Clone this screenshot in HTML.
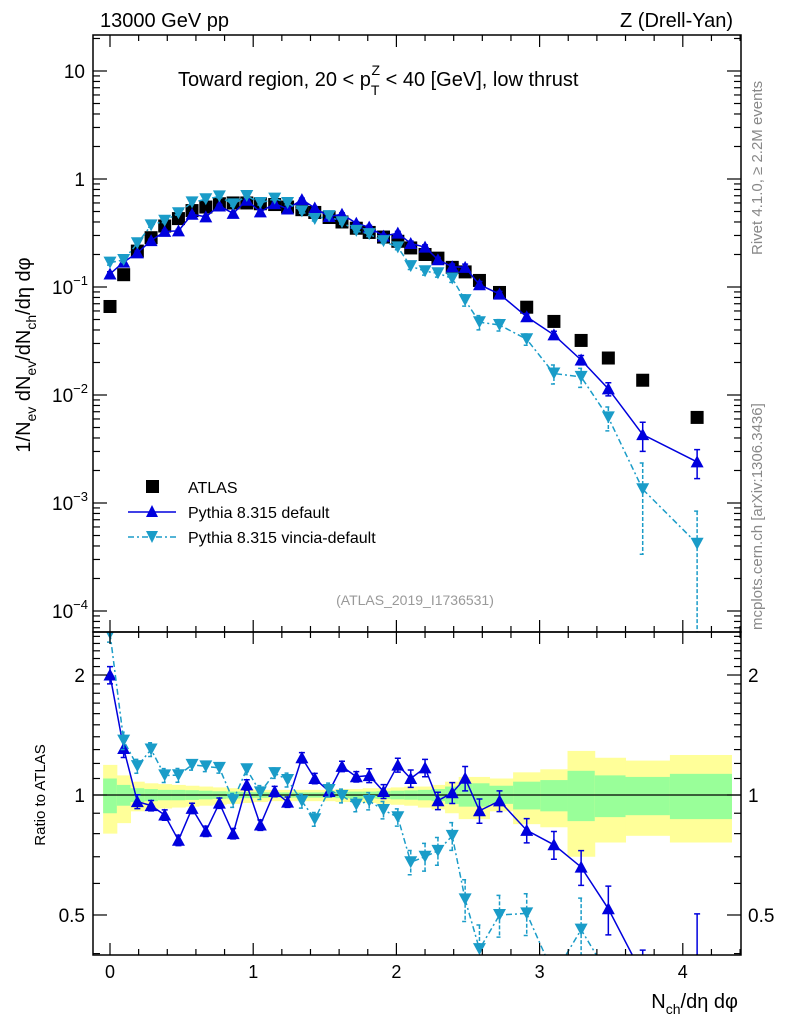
<!DOCTYPE html>
<html><head><meta charset="utf-8"><style>
html,body{margin:0;background:#fff;overflow:hidden;width:786px;height:1024px;}
svg{display:block;font-family:"Liberation Sans",sans-serif;}
</style></head><body>
<svg id="chart" width="786" height="1024" viewBox="0 0 786 1024" xmlns="http://www.w3.org/2000/svg">
<defs>
<clipPath id="clipMain"><rect x="93" y="35" width="648" height="597"/></clipPath>
<clipPath id="clipRatio"><rect x="93" y="632" width="648" height="323"/></clipPath>
</defs>
<rect x="0" y="0" width="786" height="1024" fill="#fff"/>
<g id="ratioBands" clip-path="url(#clipRatio)"></g>
<g id="mainMarks" clip-path="url(#clipMain)"></g>
<g id="ratioMarks" clip-path="url(#clipRatio)"></g>
<g id="axes"></g>
<text x="100" y="27" font-size="20">13000 GeV pp</text>
<text x="733" y="27" font-size="20" text-anchor="end">Z (Drell-Yan)</text>
<text x="178" y="86" font-size="20">Toward region, 20 &lt; p<tspan dy="9" font-size="14">T</tspan><tspan dx="-8" dy="-20" font-size="14">Z</tspan><tspan dy="11"> &lt; 40 [GeV], low thrust</tspan></text>
<text x="415" y="605" font-size="14" fill="#999" text-anchor="middle">(ATLAS_2019_I1736531)</text>
<text transform="translate(762,255) rotate(-90)" font-size="15" fill="#888">Rivet 4.1.0, ≥ 2.2M events</text>
<text transform="translate(762,630) rotate(-90)" font-size="15" fill="#888">mcplots.cern.ch [arXiv:1306.3436]</text>
<text transform="translate(30,355) rotate(-90)" font-size="20" text-anchor="middle">1/N<tspan dy="6" font-size="14">ev</tspan><tspan dy="-6"> dN</tspan><tspan dy="6" font-size="14">ev</tspan><tspan dy="-6">/dN</tspan><tspan dy="6" font-size="14">ch</tspan><tspan dy="-6">/dη dφ</tspan></text>
<text transform="translate(45,795) rotate(-90)" font-size="15" text-anchor="middle">Ratio to ATLAS</text>
<text x="738" y="1008" font-size="20" text-anchor="end">N<tspan dy="6" font-size="14">ch</tspan><tspan dy="-6">/dη dφ</tspan></text>
<g>
<rect x="146" y="480" width="13" height="13" fill="#000"/>
<text x="188" y="493" font-size="16">ATLAS</text>
<line x1="128" y1="512" x2="176" y2="512" stroke="#0000dd" stroke-width="1.5"/>
<polygon points="152,505 146,517 158,517" fill="#0000dd"/>
<text x="188" y="518" font-size="16">Pythia 8.315 default</text>
<line x1="128" y1="537" x2="176" y2="537" stroke="#1a9cc8" stroke-width="1.5" stroke-dasharray="6,3,2,3"/>
<polygon points="146,531 158,531 152,543" fill="#1a9cc8"/>
<text x="188" y="543" font-size="16">Pythia 8.315 vincia-default</text>
</g>
</svg>
<script>
const xCenters=[0,0.0955,0.191,0.287,0.382,0.478,0.573,0.669,0.764,0.860,0.955,1.05,1.15,1.24,1.34,1.43,1.53,1.62,1.72,1.81,1.91,2.01,2.10,2.20,2.29,2.39,2.48,2.58,2.72,2.91,3.10,3.29,3.48,3.72,4.10];
const atlasVals=[0.066,0.13,0.215,0.286,0.367,0.43,0.51,0.55,0.59,0.60,0.60,0.59,0.58,0.55,0.52,0.49,0.44,0.40,0.35,0.32,0.29,0.265,0.23,0.20,0.185,0.152,0.138,0.115,0.089,0.065,0.048,0.032,0.022,0.0137,0.0062];
const defaultVals=[0.132,0.170,0.207,0.269,0.327,0.331,0.472,0.446,0.563,0.48,0.636,0.496,0.592,0.528,0.645,0.539,0.449,0.472,0.389,0.358,0.296,0.315,0.253,0.234,0.179,0.154,0.152,0.105,0.086,0.053,0.036,0.0211,0.0114,0.0043,0.0024];
const vinciaVals=[0.168,0.178,0.254,0.372,0.411,0.482,0.607,0.649,0.690,0.582,0.696,0.599,0.658,0.600,0.502,0.426,0.453,0.398,0.331,0.309,0.266,0.233,0.156,0.140,0.134,0.120,0.0755,0.0472,0.0445,0.0328,0.0158,0.0147,0.0062,0.00134,0.00042];
const defaultErr=[0.05,0.05,0.04,0.03,0.03,0.03,0.03,0.03,0.03,0.03,0.03,0.03,0.03,0.03,0.03,0.03,0.03,0.03,0.03,0.04,0.04,0.04,0.05,0.05,0.05,0.06,0.07,0.07,0.06,0.07,0.08,0.1,0.14,0.3,0.3];
const vinciaErr=[0.05,0.05,0.04,0.04,0.04,0.04,0.03,0.03,0.03,0.04,0.03,0.04,0.03,0.04,0.04,0.04,0.04,0.04,0.04,0.05,0.05,0.05,0.07,0.08,0.08,0.08,0.12,0.15,0.12,0.12,0.2,0.2,0.25,0.75,1.0];
const bandYellowUp=[1.19,1.12,1.08,1.07,1.065,1.06,1.055,1.05,1.045,1.04,1.035,1.03,1.03,1.03,1.03,1.03,1.03,1.035,1.035,1.04,1.04,1.045,1.05,1.05,1.06,1.08,1.11,1.11,1.10,1.14,1.16,1.29,1.24,1.22,1.26];
const bandYellowDn=[0.80,0.85,0.91,0.92,0.925,0.93,0.935,0.94,0.945,0.95,0.955,0.96,0.965,0.965,0.965,0.965,0.965,0.96,0.96,0.955,0.95,0.945,0.94,0.93,0.92,0.90,0.87,0.87,0.91,0.845,0.83,0.70,0.76,0.79,0.76];
const bandGreenUp=[1.10,1.06,1.04,1.035,1.03,1.03,1.028,1.025,1.022,1.02,1.018,1.016,1.015,1.015,1.015,1.015,1.015,1.018,1.02,1.02,1.022,1.025,1.027,1.03,1.035,1.05,1.07,1.07,1.055,1.08,1.09,1.15,1.12,1.11,1.13];
const bandGreenDn=[0.90,0.94,0.96,0.965,0.97,0.97,0.972,0.975,0.978,0.98,0.982,0.984,0.985,0.985,0.985,0.985,0.985,0.982,0.98,0.98,0.978,0.975,0.973,0.97,0.965,0.95,0.935,0.935,0.95,0.92,0.91,0.86,0.88,0.89,0.87];
const xTickLabels=["0","1","2","3","4"];
const yTickLabels=["10","1","10^-1","10^-2","10^-3","10^-4"];
const ratioTickVals=[2,1,0.5];

const NS="http://www.w3.org/2000/svg";
const L=93,R=741,T=35,MB=632,RB=955;
const X=v=>110+v*143.2;
const Y=v=>179-108*Math.log10(v);
const RY=v=>795-398.6*Math.log10(v);
function mk(tag,attrs,parent){const e=document.createElementNS(NS,tag);for(const k in attrs)e.setAttribute(k,attrs[k]);parent.appendChild(e);return e;}
const gBand=document.getElementById('ratioBands');
const gMain=document.getElementById('mainMarks');
const gRat=document.getElementById('ratioMarks');
const gAx=document.getElementById('axes');
const edges=[];
edges.push(-0.048);
for(let i=0;i<xCenters.length-1;i++)edges.push((xCenters[i]+xCenters[i+1])/2);
edges.push(4.34);
for(let i=0;i<xCenters.length;i++){
  const y1=mk('rect',{x:X(edges[i]),y:RY(bandYellowUp[i]),width:X(edges[i+1])-X(edges[i])+0.5,height:RY(bandYellowDn[i])-RY(bandYellowUp[i]),fill:'#ffff99'},gBand);
  
  
  const g1=mk('rect',{x:X(edges[i]),y:RY(bandGreenUp[i]),width:X(edges[i+1])-X(edges[i])+0.5,height:RY(bandGreenDn[i])-RY(bandGreenUp[i]),fill:'#99ff99'},gBand);
  
  
}
mk('line',{x1:L,x2:R,y1:RY(1),y2:RY(1),stroke:'#000','stroke-width':1.2},gRat);
function clampY(y,ratio){const top=ratio?MB-20:T-20,bot=ratio?RB+20:MB+20;return Math.max(top,Math.min(bot,y));}
function series(vals,errs,color,dash,down,g,ratio){
  const pts=[];
  const f=ratio?RY:Y;
  for(let i=0;i<vals.length;i++){
    const v=ratio?vals[i]/atlasVals[i]:vals[i];
    pts.push(X(xCenters[i])+','+clampY(f(v),ratio));
  }
  const pl=mk('polyline',{points:pts.join(' '),fill:'none',stroke:color,'stroke-width':1.5},g);
  if(dash)pl.setAttribute('stroke-dasharray',dash);
  
  
  for(let i=0;i<vals.length;i++){
    const v=ratio?vals[i]/atlasVals[i]:vals[i];
    const x=X(xCenters[i]),y=f(v);
    const lo=Math.max(v*(1-errs[i]),1e-9),hi=v*(1+errs[i]);
    const yl=clampY(f(lo),ratio),yh=clampY(f(hi),ratio);
    const eb=mk('path',{d:'M'+x+','+yh+'V'+yl+'M'+(x-3)+','+yh+'h6M'+(x-3)+','+yl+'h6',stroke:color,'stroke-width':1.5,fill:'none'},g);
    if(dash)eb.setAttribute('stroke-dasharray','4,2');
    
    
    if(y<(ratio?MB:T)-10||y>(ratio?RB:MB)+10)continue;
    const p=down?(x-6.5)+','+(y-6)+' '+(x+6.5)+','+(y-6)+' '+x+','+(y+6):x+','+(y-6.5)+' '+(x-6.5)+','+(y+5.5)+' '+(x+6.5)+','+(y+5.5);
    const m=mk('polygon',{points:p,fill:color},g);
    
    
  }
}
for(let i=0;i<atlasVals.length;i++){
  const s=mk('rect',{x:X(xCenters[i])-6.5,y:Y(atlasVals[i])-6.5,width:13,height:13,fill:'#000'},gMain);
  
  
}
series(defaultVals,defaultErr,'#0000dd',null,false,gMain,false);
series(vinciaVals,vinciaErr,'#1a9cc8','6,3,2,3',true,gMain,false);
series(defaultVals,defaultErr,'#0000dd',null,false,gRat,true);
series(vinciaVals,vinciaErr,'#1a9cc8','6,3,2,3',true,gRat,true);
[[T,MB],[MB,RB]].forEach(function(pr){
  const t=pr[0],b=pr[1];
  mk('rect',{x:L,y:t,width:R-L,height:b-t,fill:'none',stroke:'#000','stroke-width':1.5},gAx);
  for(let k=-1;k<=23;k++){
    const v=k*0.2;const x=X(v);if(x<L||x>R)continue;
    const major=k%5===0;
    const len=major?12:6;
    mk('line',{x1:x,x2:x,y1:b,y2:b-len,stroke:'#000','stroke-width':1.2},gAx);
    mk('line',{x1:x,x2:x,y1:t,y2:t+len,stroke:'#000','stroke-width':1.2},gAx);
  }
});
xTickLabels.forEach(function(s){const t=mk('text',{x:X(+s),y:978,'font-size':18,'text-anchor':'middle'},gAx);t.textContent=s;

});
for(let d=-5;d<=1;d++){
  for(let k=1;k<10;k++){
    const v=k*Math.pow(10,d);const y=Y(v);if(y<T||y>MB)continue;
    const len=k===1?14:7;
    mk('line',{x1:L,x2:L+len,y1:y,y2:y,stroke:'#000','stroke-width':1.2},gAx);
    mk('line',{x1:R,x2:R-len,y1:y,y2:y,stroke:'#000','stroke-width':1.2},gAx);
  }
}
yTickLabels.forEach(function(s,i){
  const v=Math.pow(10,1-i);const y=Y(v);
  const t=mk('text',{x:85,y:y+7,'font-size':19,'text-anchor':'end'},gAx);
  if(s.indexOf('^')>=0){const p=s.split('^');t.textContent=p[0];const ts=mk('tspan',{dy:-9,'font-size':13},t);ts.textContent=p[1].replace('-','−');t.setAttribute('x',88);}
  else t.textContent=s;
  
  
});
[0.4,0.5,0.6,0.7,0.8,0.9,1,1.1,1.2,1.3,1.4,1.5,1.6,1.7,1.8,1.9,2,2.1,2.2,2.3,2.4,2.5].forEach(function(v){
  const y=RY(v);if(y<MB||y>RB)return;
  const major=ratioTickVals.indexOf(v)>=0;const len=major?14:7;
  mk('line',{x1:L,x2:L+len,y1:y,y2:y,stroke:'#000','stroke-width':1.2},gAx);
  mk('line',{x1:R,x2:R-len,y1:y,y2:y,stroke:'#000','stroke-width':1.2},gAx);
});
ratioTickVals.forEach(function(v){
  const y=RY(v)+7;
  const a=mk('text',{x:85,y:y,'font-size':19,'text-anchor':'end'},gAx);a.textContent=String(v);
  
  
  const b=mk('text',{x:748,y:y,'font-size':19},gAx);b.textContent=String(v);
  
  
});
</script>
</body></html>
